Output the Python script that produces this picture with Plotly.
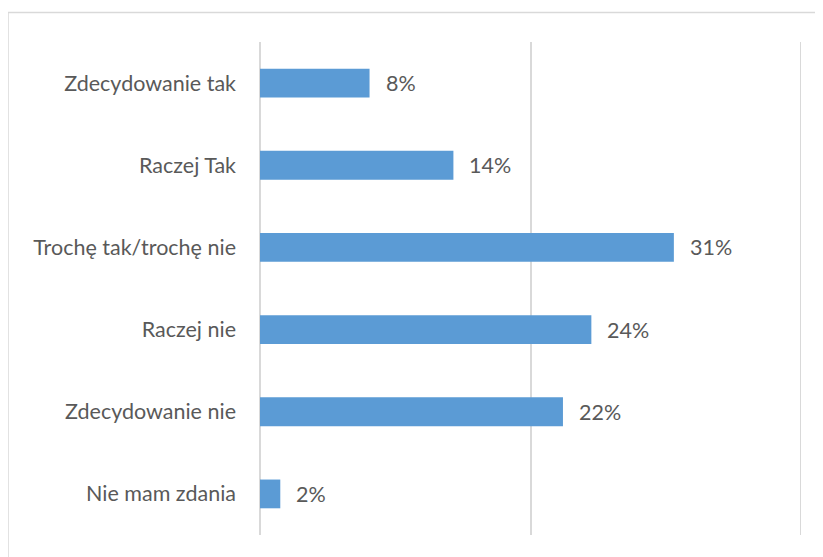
import plotly.graph_objects as go

categories = ["Zdecydowanie tak", "Raczej Tak", "Trochę tak/trochę nie", "Raczej nie", "Zdecydowanie nie", "Nie mam zdania"]
values = [0.081, 0.143, 0.306, 0.245, 0.224, 0.015]
value_labels = ["8%", "14%", "31%", "24%", "22%", "2%"]
x_max = 0.4

font_family = "Lato, 'Open Sans', sans-serif"
text_color = "#595959"
fsize = 21.5

fig = go.Figure()
fig.add_trace(go.Bar(
    y=categories,
    x=values,
    orientation="h",
    marker=dict(color="#5B9BD5", line=dict(width=0)),
    width=0.35,
    hoverinfo="skip",
))

for c, v, t in zip(categories, values, value_labels):
    fig.add_annotation(x=v, y=c, text=t, showarrow=False, xanchor="left",
                       xshift=14, font=dict(family=font_family, size=fsize, color=text_color))

# page body has an 8px margin, so the figure is offset by 8px
W, H = 815, 549
L, R, T, B = 252, 22, 34, 22
pw = W - L - R
ph = H - T - B
top_border = (H - B - 4.5) / ph
fig.update_layout(
    width=W, height=H,
    margin=dict(l=L, r=R, t=T, b=B),
    paper_bgcolor="white", plot_bgcolor="white",
    showlegend=False,
    font=dict(family=font_family, size=fsize, color=text_color),
    xaxis=dict(range=[0, x_max], dtick=0.2, showticklabels=False, showgrid=True,
               gridcolor="#D9D9D9", gridwidth=2, zeroline=True, zerolinecolor="#D9D9D9",
               zerolinewidth=2, showline=False, fixedrange=True),
    yaxis=dict(categoryorder="array", categoryarray=categories[::-1], autorange=False,
               range=[-0.5, 5.5], showgrid=False, zeroline=False, showline=False,
               ticks="", ticklabelstandoff=23, tickfont=dict(size=fsize, color=text_color)),
    shapes=[
        dict(type="line", xref="x", yref="paper", x0=x_max, x1=x_max, y0=0, y1=1,
             line=dict(color="#D9D9D9", width=2), layer="below"),
        dict(type="line", xref="paper", yref="paper", x0=-L/pw, x1=1.2,
             y0=top_border, y1=top_border,
             line=dict(color="#D9D9D9", width=1.5)),
        dict(type="line", xref="paper", yref="paper", x0=-L/pw, x1=-L/pw,
             y0=top_border, y1=-0.2,
             line=dict(color="#D9D9D9", width=1.5)),
    ],
)

fig.write_html("out.html")
